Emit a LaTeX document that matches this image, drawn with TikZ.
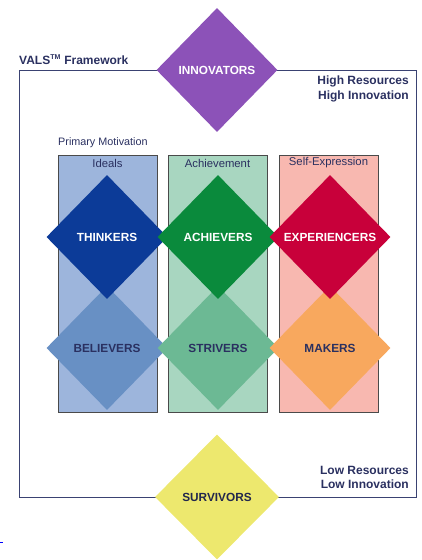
\documentclass[tikz,border=0pt]{standalone}
\usepackage{fontspec}
\setmainfont{Liberation Sans}
\usetikzlibrary{shapes.geometric}
\definecolor{frameblue}{HTML}{3A4272}
\definecolor{navytext}{HTML}{2A3060}
\definecolor{colborder}{HTML}{4A4A4A}
\definecolor{innovcol}{HTML}{8C52B8}
\definecolor{thinkcol}{HTML}{0C3B98}
\definecolor{achievcol}{HTML}{0A8A3C}
\definecolor{expercol}{HTML}{C8003A}
\definecolor{believcol}{HTML}{6890C4}
\definecolor{strivcol}{HTML}{6CB994}
\definecolor{makercol}{HTML}{F8A85E}
\definecolor{survivcol}{HTML}{EDE86E}
\definecolor{idealscol}{HTML}{9DB5DC}
\definecolor{achievecol}{HTML}{A8D6C0}
\definecolor{selfcol}{HTML}{F8B8B0}
\tikzset{
  segment/.style={diamond, minimum width=121pt, minimum height=124pt, inner sep=0pt,
    font=\fontsize{11.8}{13}\selectfont\bfseries},
  column/.style={draw=colborder, line width=0.9pt},
  corner/.style={anchor=north east, inner sep=0pt, align=right, text=navytext,
    font=\fontsize{12}{14.5}\selectfont\bfseries}
}
\def\drawColumn#1#2#3{
\fill[#2] (#1,155) rectangle ++(99,257);
\draw[column] (#1,155) rectangle ++(99,257);
\node[text=navytext, font=\fontsize{11.3}{12}\selectfont] (#3) at (#1+49.5,163) {#3};
}
\begin{document}
\begin{tikzpicture}[x=1pt,y=-1pt]
\useasboundingbox (0,0) rectangle (422,560);
\coordinate (p1) at (107,237);
\coordinate (p2) at (218,237);
\coordinate (p3) at (330,237);
\coordinate (p4) at (107,348);
\coordinate (p5) at (218,348);
\coordinate (p6) at (330,348);
\draw[frameblue, line width=0.9pt] (19,70) rectangle (416,497);
\drawColumn{58}{idealscol}{Ideals}
\drawColumn{168}{achievecol}{Achievement}
\drawColumn{279}{selfcol}{Self-Expression}
\node[anchor=south west, inner sep=0pt, text=navytext, font=\fontsize{10.8}{12}\selectfont] (motiv) at (58,148) {Primary Motivation};
\node[segment, fill=believcol, text=navytext] (believers) at (p4) {BELIEVERS};
\node[segment, fill=strivcol, text=navytext] (strivers) at (p5) {STRIVERS};
\node[segment, fill=makercol, text=navytext] (makers) at (p6) {MAKERS};
\node[segment, fill=thinkcol, text=white] (thinkers) at (p1) {THINKERS};
\node[segment, fill=achievcol, text=white] (achievers) at (p2) {ACHIEVERS};
\node[segment, fill=expercol, text=white] (experiencers) at (p3) {EXPERIENCERS};
\node[segment, fill=innovcol, text=white] (innovators) at (217,70) {INNOVATORS};
\node[segment, fill=survivcol, text=navytext!80!black, minimum width=124pt, minimum height=125pt] (survivors) at (217,497) {SURVIVORS};
\node[anchor=base west, inner sep=0pt, text=navytext, font=\fontsize{12}{13}\selectfont\bfseries] (title) at (19,64) {VALS\textsuperscript{\scriptsize TM} Framework};
\node[corner] (high) at (409,76) {High Resources\\High Innovation};
\node[corner] (low) at (409,466) {Low Resources\\Low Innovation};
\draw[blue, line width=1pt] (0,542) -- (3,542);
\end{tikzpicture}
\end{document}
